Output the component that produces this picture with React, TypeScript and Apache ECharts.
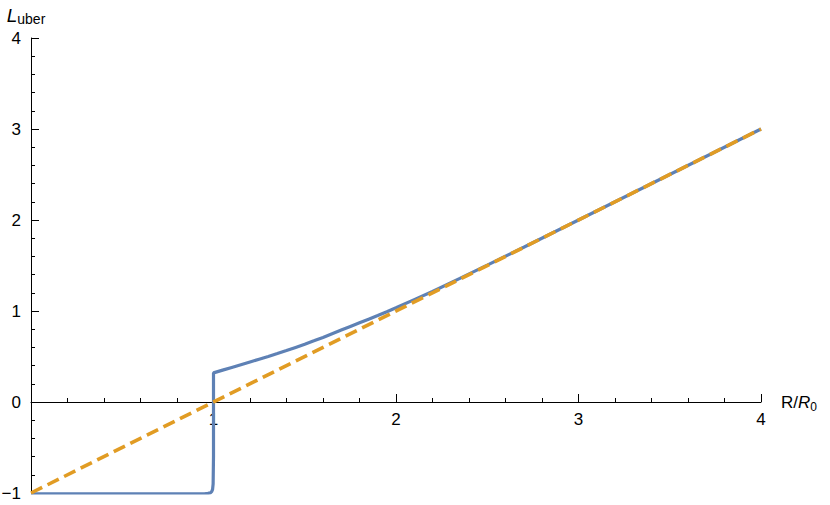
import React, { useEffect, useRef } from "react";
import * as echarts from "echarts";

const blueX = [0, 0.5, 0.9, 0.95, 0.97, 0.983, 0.99, 0.995, 0.998, 1.0, 1.0, 1.05, 1.1, 1.15, 1.2, 1.25, 1.3, 1.35, 1.4, 1.45, 1.5, 1.55, 1.6, 1.65, 1.7, 1.75, 1.8, 1.85, 1.9, 1.95, 2.0, 2.1, 2.2, 2.35, 2.5, 2.7, 3.0, 3.5, 4.0];
const blueY = [-1.01, -1.01, -1.01, -1.008, -1.004, -0.998, -0.985, -0.96, -0.9, -0.6, 0.32, 0.35, 0.38, 0.41, 0.44, 0.47, 0.5, 0.532, 0.565, 0.6, 0.635, 0.672, 0.71, 0.75, 0.79, 0.83, 0.87, 0.91, 0.95, 0.992, 1.035, 1.125, 1.215, 1.358, 1.504, 1.701, 2.0, 2.5, 3.0];
const orangeX = [0, 4];
const orangeY = [-1, 3];
const xTicks = [0, 1, 2, 3, 4];
const yTicks = [-1, 0, 1, 2, 3, 4];

const FONT = "'Liberation Sans', Arial, sans-serif";
const GRID_TOP = 38;
const GRID_BOTTOM = 12;
const HEIGHT = 505;

export default function App() {
  const ref = useRef<HTMLDivElement>(null);
  useEffect(() => {
    const chart = echarts.init(ref.current!, null, { renderer: "svg" });
    const blue = blueX.map((x, i) => [x, blueY[i]]);
    const orange = orangeX.map((x, i) => [x, orangeY[i]]);
    const yMin = yTicks[0];
    const yMax = yTicks[yTicks.length - 1];
    const gridH = HEIGHT - GRID_TOP - GRID_BOTTOM;
    const zeroOffset = (gridH * (0 - yMin)) / (yMax - yMin);
    chart.setOption({
      animation: false,
      textStyle: { fontFamily: FONT },
      grid: { left: 31, right: 69, top: GRID_TOP, bottom: GRID_BOTTOM, containLabel: false, outerBoundsMode: "none" },
      xAxis: {
        type: "value",
        position: "bottom",
        offset: -zeroOffset,
        min: xTicks[0],
        max: xTicks[xTicks.length - 1],
        interval: 1,
        name: "{r|R/}{i|R}{s|0}",
        nameLocation: "end",
        nameGap: 20,
        nameTextStyle: {
          rich: {
            r: { fontSize: 17, fontFamily: FONT, color: "#000" },
            i: { fontSize: 17, fontFamily: FONT, fontStyle: "italic", color: "#000" },
            s: { fontSize: 12, fontFamily: FONT, color: "#000", padding: [10, 0, 0, 0] },
          },
        },
        axisLine: { onZero: false, lineStyle: { color: "#000", width: 1 } },
        axisTick: { show: true, inside: true, length: 8, lineStyle: { color: "#000" } },
        minorTick: { show: true, splitNumber: 5, length: 4, lineStyle: { color: "#000" } },
        axisLabel: {
          margin: 9,
          fontSize: 17,
          color: "#000",
          fontFamily: FONT,
          formatter: (v: number) => (v === 0 ? "" : String(v)),
        },
        splitLine: { show: false },
      },
      yAxis: {
        type: "value",
        min: yMin,
        max: yMax,
        interval: 1,
        name: "{i|L}{s|uber}",
        nameLocation: "end",
        nameGap: 12,
        nameTextStyle: {
          padding: [0, 10, 0, 0],
          rich: {
            i: { fontSize: 19, fontFamily: FONT, fontStyle: "italic", color: "#000" },
            s: { fontSize: 14, fontFamily: FONT, color: "#000", padding: [8, 0, 0, 0] },
          },
        },
        axisLine: { onZero: false, lineStyle: { color: "#000", width: 1 } },
        axisTick: { show: true, inside: true, length: 8, lineStyle: { color: "#000" } },
        minorTick: { show: true, splitNumber: 5, length: 4, lineStyle: { color: "#000" } },
        axisLabel: {
          margin: 10,
          fontSize: 17,
          color: "#000",
          fontFamily: FONT,
          formatter: (v: number) => (v < 0 ? "\u2212" + Math.abs(v) : String(v)),
        },
        splitLine: { show: false },
      },
      series: [
        {
          type: "line",
          data: blue,
          showSymbol: false,
          lineStyle: { color: "#5e81b5", width: 3.2 },
          z: 2,
        },
        {
          type: "line",
          data: orange,
          showSymbol: false,
          lineStyle: { color: "#e19c24", width: 3.6, type: [12.5, 6] },
          z: 3,
        },
      ],
    });
    return () => chart.dispose();
  }, []);
  return <div ref={ref} style={{ width: 830, height: HEIGHT, position: "absolute", left: 0, top: 0 }} />;
}
